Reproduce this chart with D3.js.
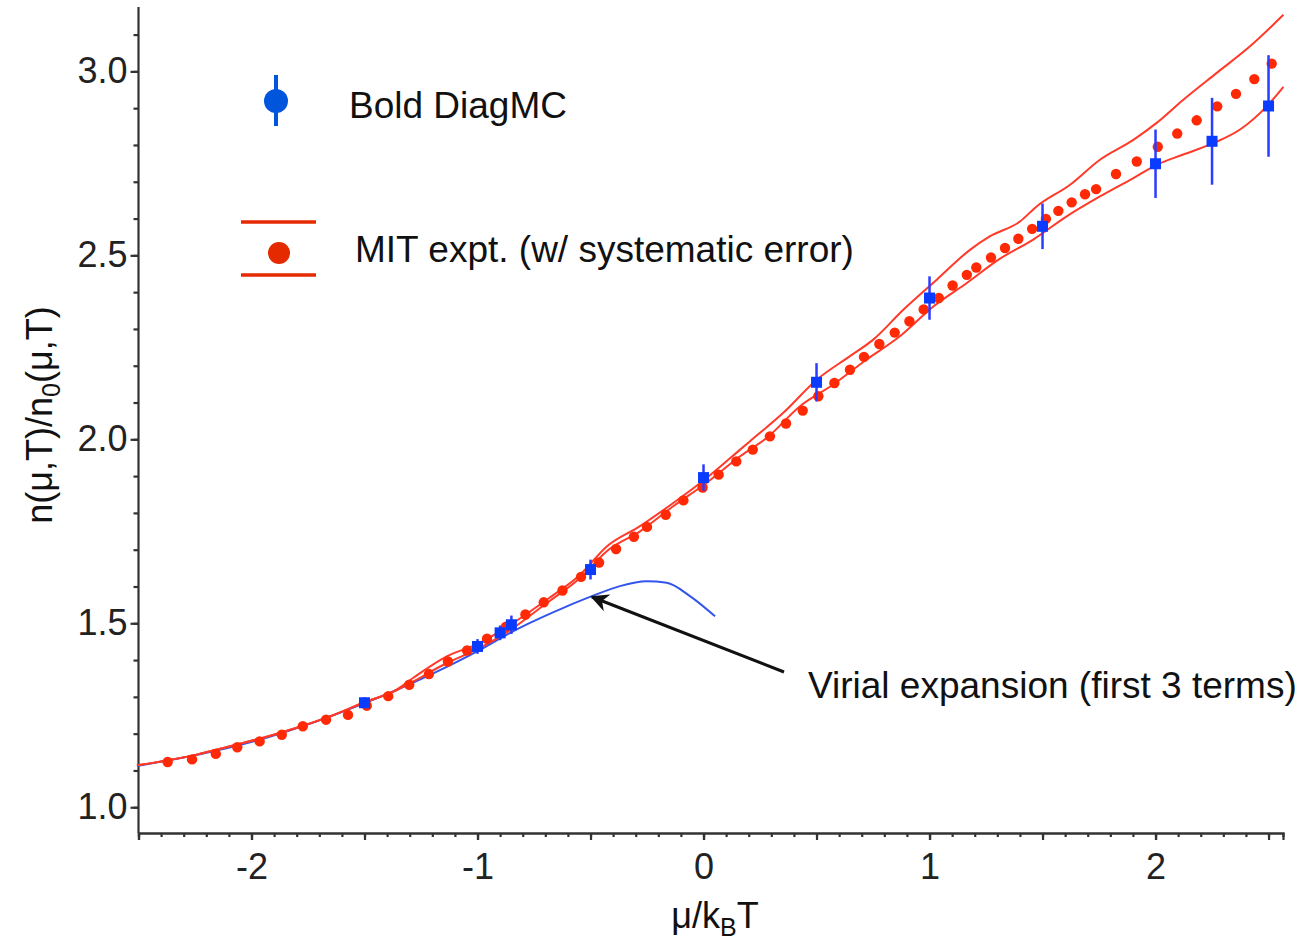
<!DOCTYPE html>
<html>
<head>
<meta charset="utf-8">
<script src="https://cdn.jsdelivr.net/npm/d3@7"></script>
<style>
  body { margin: 0; background: #fff; }
  text { font-family: "Liberation Sans", Arial, sans-serif; fill: #111; }
  .axis path, .axis line { stroke: #333; stroke-width: 2.2; }
  .axis text { font-size: 36px; fill: #222; }
</style>
</head>
<body>
<script>
// MIT experiment points (mu/kBT, n/n0)
const mitMu = [-2.371, -2.263, -2.158, -2.063, -1.964, -1.866, -1.773, -1.670, -1.573, -1.490,
  -1.395, -1.302, -1.215, -1.131, -1.046, -0.958, -0.874, -0.788, -0.707, -0.624,
  -0.542, -0.462, -0.387, -0.308, -0.250, -0.167, -0.089, -0.004, 0.067, 0.145,
  0.218, 0.294, 0.365, 0.439, 0.508, 0.579, 0.648, 0.710, 0.778, 0.846,
  0.911, 0.974, 1.041, 1.102, 1.165, 1.207, 1.272, 1.334, 1.393, 1.454,
  1.515, 1.570, 1.629, 1.688, 1.737, 1.825, 1.917, 2.010, 2.096, 2.182,
  2.273, 2.356, 2.437, 2.514];
const mitN = [1.123, 1.130, 1.145, 1.163, 1.179, 1.197, 1.220, 1.238, 1.251, 1.276,
  1.302, 1.333, 1.362, 1.396, 1.426, 1.458, 1.491, 1.524, 1.557, 1.589,
  1.626, 1.665, 1.702, 1.735, 1.762, 1.795, 1.834, 1.869, 1.904, 1.940,
  1.972, 2.008, 2.043, 2.078, 2.117, 2.153, 2.189, 2.224, 2.259, 2.290,
  2.321, 2.353, 2.384, 2.418, 2.447, 2.467, 2.494, 2.520, 2.545, 2.572,
  2.599, 2.621, 2.644, 2.666, 2.680, 2.721, 2.755, 2.795, 2.831, 2.867,
  2.905, 2.939, 2.979, 3.021];

// systematic error band edges
const upperMu = [-2.507, -2.242, -2.095, -1.948, -1.800, -1.653, -1.505, -1.358, -1.284, -1.136,
  -0.989, -0.842, -0.694, -0.546, -0.428, -0.281, -0.134, 0.014, 0.162, 0.206,
  0.353, 0.501, 0.648, 0.751, 0.884, 1.032, 1.179, 1.268, 1.400, 1.474,
  1.622, 1.754, 1.902, 2.005, 2.123, 2.271, 2.418, 2.566];
const upperN = [1.114, 1.143, 1.166, 1.189, 1.216, 1.247, 1.284, 1.320, 1.352, 1.410,
  1.447, 1.501, 1.564, 1.632, 1.709, 1.764, 1.827, 1.895, 1.972, 1.995,
  2.072, 2.162, 2.226, 2.271, 2.352, 2.434, 2.515, 2.552, 2.592, 2.633,
  2.692, 2.760, 2.814, 2.860, 2.923, 2.996, 3.068, 3.154];
const lowerMu = [-2.507, -2.242, -2.095, -1.948, -1.800, -1.653, -1.505, -1.358, -1.284, -1.136,
  -0.989, -0.842, -0.694, -0.546, -0.428, -0.281, -0.134, 0.014, 0.162, 0.280,
  0.427, 0.574, 0.722, 0.869, 1.017, 1.165, 1.312, 1.459, 1.607, 1.754,
  1.902, 2.005, 2.123, 2.256, 2.374, 2.492, 2.566];
const lowerN = [1.114, 1.143, 1.166, 1.189, 1.216, 1.247, 1.284, 1.318, 1.342, 1.392,
  1.433, 1.487, 1.555, 1.623, 1.696, 1.750, 1.818, 1.882, 1.954, 2.004,
  2.090, 2.149, 2.217, 2.280, 2.361, 2.425, 2.491, 2.543, 2.606, 2.660,
  2.710, 2.746, 2.774, 2.805, 2.842, 2.905, 2.958];

// Bold DiagMC points with error bars
const bdmcMu = [-1.5, -1.0, -0.9, -0.85, -0.5, 0.0, 0.5, 1.0, 1.5, 2.0, 2.25, 2.5];
const bdmcN = [1.284, 1.437, 1.474, 1.496, 1.646, 1.896, 2.155, 2.384, 2.579, 2.749, 2.810, 2.906];
const bdmcErr = [0.015, 0.02, 0.02, 0.025, 0.027, 0.036, 0.052, 0.059, 0.062, 0.093, 0.118, 0.138];

// virial expansion, first 3 terms
const virialMu = [-2.507, -1.949, -1.507, -1.210, -0.989, -0.843, -0.768, -0.620, -0.488, -0.370, -0.252, -0.163, -0.060, 0.051];
const virialN = [1.112, 1.186, 1.281, 1.360, 1.428, 1.478, 1.501, 1.542, 1.575, 1.601, 1.614, 1.610, 1.574, 1.519];

const xMajor = [-2, -1, 0, 1, 2];
const yMajor = [1.0, 1.5, 2.0, 2.5, 3.0];

const width = 1307, height = 940;
const svg = d3.select('body').append('svg')
  .attr('width', width)
  .attr('height', height);

const x = d3.scaleLinear().domain([-2.5, 2.564]).range([138.5, 1283]);
const y = d3.scaleLinear().domain([0.93, 3.175]).range([833, 7]);

const xMinor = d3.range(-25, 26).map(d => d / 10);
const xHalf = d3.range(-5, 6).map(d => d / 2);
const yMinor = d3.range(10, 32).map(d => d / 10);

// x axis: minor, half and labelled ticks (plain hyphen for negatives)
svg.append('g').attr('class', 'axis').attr('transform', 'translate(0,833)')
  .call(d3.axisBottom(x).tickValues(xMinor).tickSize(4).tickFormat(''));
svg.append('g').attr('class', 'axis').attr('transform', 'translate(0,833)')
  .call(d3.axisBottom(x).tickValues(xHalf).tickSize(7).tickFormat(''));
svg.append('g').attr('class', 'axis').attr('transform', 'translate(0,833)')
  .call(d3.axisBottom(x).tickValues(xMajor).tickSize(7).tickPadding(13).tickFormat(d => String(d)))
  .call(g => g.select('.domain').remove());

// y axis
svg.append('g').attr('class', 'axis').attr('transform', 'translate(138.5,0)')
  .call(d3.axisLeft(y).tickValues(yMinor).tickSize(5).tickFormat(''))
  .call(g => g.select('.domain').attr('d', 'M0,' + y(3.175) + 'V833'));
svg.append('g').attr('class', 'axis').attr('transform', 'translate(138.5,0)')
  .call(d3.axisLeft(y).tickValues(yMajor).tickSize(8).tickPadding(3).tickFormat(d3.format('.1f')))
  .call(g => g.select('.domain').remove());

// axis titles
svg.append('text')
  .attr('x', 715).attr('y', 928)
  .attr('text-anchor', 'middle')
  .style('font-size', '36px')
  .html('μ/k<tspan dy="8" style="font-size:25px">B</tspan><tspan dy="-8">T</tspan>');

svg.append('text')
  .attr('transform', 'translate(52,415) rotate(-90)')
  .attr('text-anchor', 'middle')
  .style('font-size', '36px')
  .html('n(μ,T)/n<tspan dy="8" style="font-size:25px">0</tspan><tspan dy="-8">(μ,T)</tspan>');

const line = d3.line().x(d => x(d[0])).y(d => y(d[1])).curve(d3.curveMonotoneX);

// virial curve
svg.append('path')
  .datum(d3.zip(virialMu, virialN))
  .attr('d', line)
  .attr('fill', 'none')
  .attr('stroke', '#3355ee')
  .attr('stroke-width', 2);

// systematic error band lines
[[upperMu, upperN], [lowerMu, lowerN]].forEach(function(s) {
  svg.append('path')
    .datum(d3.zip(s[0], s[1]))
    .attr('d', line)
    .attr('fill', 'none')
    .attr('stroke', '#ff3a2a')
    .attr('stroke-width', 2);
});

// MIT dots
svg.append('g').selectAll('circle')
  .data(d3.zip(mitMu, mitN))
  .enter().append('circle')
  .attr('cx', d => x(d[0]))
  .attr('cy', d => y(d[1]))
  .attr('r', 5.2)
  .attr('fill', '#ff2a05');

// Bold DiagMC error bars and squares
const bd = svg.append('g').selectAll('g')
  .data(bdmcMu.map((m, i) => ({ mu: m, n: bdmcN[i], e: bdmcErr[i] })))
  .enter().append('g');
bd.append('line')
  .attr('x1', d => x(d.mu)).attr('x2', d => x(d.mu))
  .attr('y1', d => y(d.n + d.e)).attr('y2', d => y(d.n - d.e))
  .attr('stroke', '#2a3cff')
  .attr('stroke-width', 2.5);
bd.append('rect')
  .attr('x', d => x(d.mu) - 5.5)
  .attr('y', d => y(d.n) - 5.5)
  .attr('width', 11).attr('height', 11)
  .attr('fill', '#0a3cff');

// legend
const legend = svg.append('g');
legend.append('line')
  .attr('x1', 276).attr('x2', 276).attr('y1', 75).attr('y2', 126)
  .attr('stroke', '#0055dd').attr('stroke-width', 4);
legend.append('circle')
  .attr('cx', 276).attr('cy', 101).attr('r', 12)
  .attr('fill', '#0055dd');
legend.append('text')
  .attr('x', 349).attr('y', 118)
  .style('font-size', '37px')
  .text('Bold DiagMC');

[222, 275].forEach(function(yy) {
  legend.append('line')
    .attr('x1', 241).attr('x2', 316).attr('y1', yy).attr('y2', yy)
    .attr('stroke', '#e52a00').attr('stroke-width', 3.5);
});
legend.append('circle')
  .attr('cx', 279).attr('cy', 253).attr('r', 11)
  .attr('fill', '#e52a00');
legend.append('text')
  .attr('x', 355).attr('y', 262)
  .style('font-size', '37px')
  .text('MIT expt. (w/ systematic error)');

// annotation arrow
svg.append('defs').append('marker')
  .attr('id', 'arrow')
  .attr('viewBox', '0 0 10 10')
  .attr('refX', 9).attr('refY', 5)
  .attr('markerWidth', 6).attr('markerHeight', 6)
  .attr('markerUnits', 'strokeWidth')
  .attr('orient', 'auto')
  .append('path')
  .attr('d', 'M0,0L10,5L0,10L3,5Z')
  .attr('fill', '#111');

svg.append('line')
  .attr('x1', 784).attr('y1', 672)
  .attr('x2', 592).attr('y2', 597)
  .attr('stroke', '#111')
  .attr('stroke-width', 3)
  .attr('marker-end', 'url(#arrow)');

svg.append('text')
  .attr('x', 808).attr('y', 698)
  .style('font-size', '37px')
  .text('Virial expansion (first 3 terms)');
</script>
</body>
</html>
